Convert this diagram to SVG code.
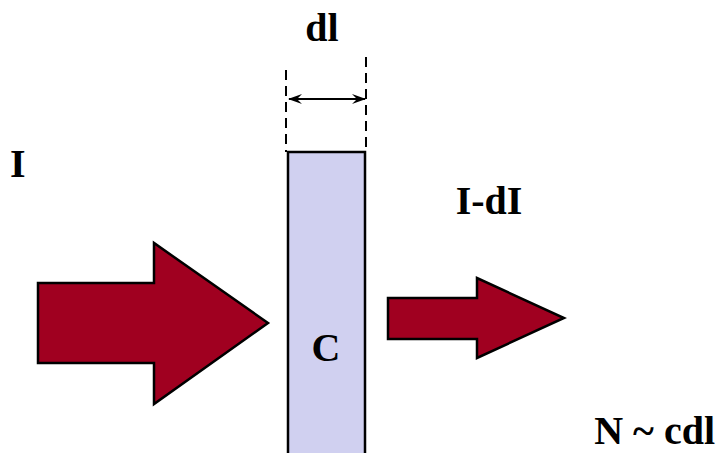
<svg xmlns="http://www.w3.org/2000/svg" width="723" height="453" viewBox="0 0 723 453">
<defs>
<marker id="ah" markerWidth="14" markerHeight="10" refX="13" refY="5" orient="auto-start-reverse" markerUnits="userSpaceOnUse">
<path d="M0,0 L14,5 L0,10 L5,5 Z" fill="#000"/>
</marker>
</defs>
<style>
.t{font-family:"Liberation Serif","Times New Roman","DejaVu Serif",serif;font-weight:700;font-size:40px;fill:#000}
.arrow{fill:#a00020;stroke:#000;stroke-width:2.5;stroke-linejoin:miter}
.dash{stroke:#000;stroke-width:2;stroke-dasharray:10,6;fill:none}
</style>
<rect width="723" height="453" fill="#fff"/>
<g id="slab">
<rect x="288" y="152" width="77" height="310" fill="#d0d0f0" stroke="#000" stroke-width="2.5"/>
<text class="t" x="326" y="361" text-anchor="middle">C</text>
</g>
<g id="incoming">
<polygon class="arrow" points="38,283 154,283 154,243 268,323 154,404 154,363 38,363"/>
<text class="t" x="10" y="177">I</text>
</g>
<g id="outgoing">
<polygon class="arrow" points="388,298 477,298 477,278 564,318 477,358 477,339 388,339"/>
<text class="t" x="489" y="214" text-anchor="middle">I-dI</text>
</g>
<g id="label-n">
<text class="t" x="715" y="444" text-anchor="end">N ~ cdl</text>
</g>
<g id="connectors">
<line class="dash" x1="286" y1="70" x2="286" y2="152"/>
<line class="dash" x1="366" y1="57" x2="366" y2="152"/>
<line x1="289" y1="99" x2="365" y2="99" stroke="#000" stroke-width="2" marker-start="url(#ah)" marker-end="url(#ah)"/>
<text class="t" x="322" y="41" text-anchor="middle">dl</text>
</g>
</svg>
